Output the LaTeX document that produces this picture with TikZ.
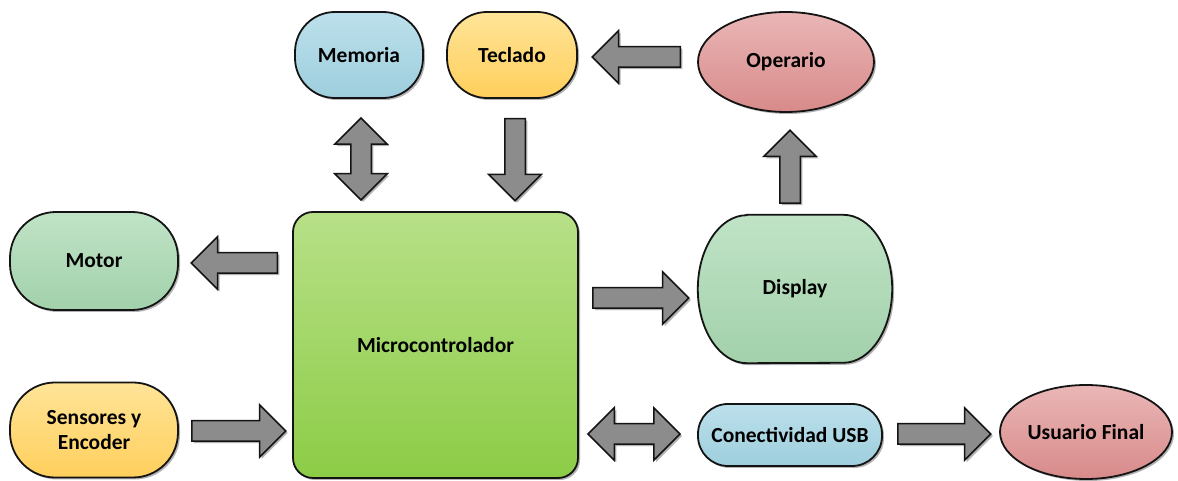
\documentclass[tikz,border=0pt]{standalone}
\usepackage{fontspec}
\setmainfont{Carlito}
\usetikzlibrary{shapes.geometric,shapes.arrows,shadows,calc}
\definecolor{bluetop}{RGB}{188,224,235}
\definecolor{bluebot}{RGB}{158,206,221}
\definecolor{yeltop}{RGB}{255,228,152}
\definecolor{yelbot}{RGB}{255,207,92}
\definecolor{redtop}{RGB}{234,182,182}
\definecolor{redbot}{RGB}{216,138,138}
\definecolor{greentop}{RGB}{192,227,198}
\definecolor{greenbot}{RGB}{162,209,171}
\definecolor{mictop}{RGB}{184,224,136}
\definecolor{micbot}{RGB}{140,204,70}
\definecolor{arrowgray}{RGB}{140,140,140}
\definecolor{edge}{RGB}{20,20,20}
\tikzset{
  x=1pt, y=1pt,
  every node/.style={font=\fontsize{21.5}{25}\selectfont\bfseries, align=center},
  shade/.style={drop shadow={shadow xshift=2pt, shadow yshift=-2pt, fill=black, opacity=0.3}},
  boxbase/.style={draw=edge, line width=1.8pt, shade},
  stadium/.style={boxbase, rectangle, inner sep=0pt},
  bluebox/.style={stadium, top color=bluetop, bottom color=bluebot},
  yelbox/.style={stadium, top color=yeltop, bottom color=yelbot},
  greenbox/.style={stadium, top color=greentop, bottom color=greenbot},
  redell/.style={boxbase, ellipse, inner sep=0pt, top color=redtop, bottom color=redbot},
  arrowbase/.style={draw=edge, line width=1.5pt, fill=arrowgray, inner xsep=0pt, inner ysep=9.5pt,
     text height=0pt, text depth=0pt, text width=0pt, shade},
  vert/.style={inner xsep=9.5pt, inner ysep=0pt},
  blockarrow/.style={arrowbase, single arrow, single arrow head extend=16pt, single arrow tip angle=90},
  dblockarrow/.style={arrowbase, double arrow, double arrow head extend=16pt, double arrow tip angle=90},
}
\begin{document}
\begin{tikzpicture}
\useasboundingbox (0,0) rectangle (1178,481);
% nodes
\node[bluebox, minimum width=128pt, minimum height=86pt, rounded corners=40pt] (memoria) at (359,426) {Memoria};
\node[yelbox, minimum width=130pt, minimum height=86pt, rounded corners=40pt] (teclado) at (512,426) {Teclado};
\node[redell, minimum width=176pt, minimum height=100pt] (operario) at (786,419) {Operario};
\node[greenbox, minimum width=168pt, minimum height=98pt, rounded corners=46pt] (motor) at (94,220) {Motor};
\node[yelbox, minimum width=168pt, minimum height=95pt, rounded corners=45pt] (sensores) at (94,51) {Sensores y\\Encoder};
\node[stadium, minimum width=285pt, minimum height=266pt, rounded corners=20pt, top color=mictop, bottom color=micbot] (micro) at (435.5,136) {Microcontrolador};
\node[rectangle, minimum width=194pt, minimum height=148pt, inner sep=0pt] (displaybox) at (795,192) {};
\path[boxbase, top color=greentop, bottom color=greenbot]
  ($(displaybox.north west)+(49,0)$) -- ($(displaybox.north east)+(-49,0)$)
  arc[start angle=90, end angle=-90, x radius=49, y radius=74]
  -- ($(displaybox.south west)+(49,0)$)
  arc[start angle=270, end angle=90, x radius=49, y radius=74] -- cycle;
\node (display) at (displaybox.center) {Display};
\node[bluebox, minimum width=184pt, minimum height=62pt, rounded corners=30pt] (usb) at (790,46) {Conectividad USB};
\node[redell, minimum width=172pt, minimum height=94pt] (usuario) at (1086,49) {Usuario Final};
% block arrows
\node[dblockarrow, vert, minimum height=82pt, shape border rotate=90] (amem) at (361,322) {};
\node[blockarrow, vert, minimum height=82pt, shape border rotate=270, anchor=tail] (atec) at (515,363) {};
\node[blockarrow, minimum height=88pt, shape border rotate=180, anchor=tail] (aop) at (681,424) {};
\node[blockarrow, vert, minimum height=73pt, shape border rotate=90, anchor=tail] (adisp) at (790,277) {};
\node[blockarrow, minimum height=86pt, shape border rotate=180, anchor=tail] (amotor) at (278,218) {};
\node[blockarrow, minimum height=94pt, anchor=tail] (asens) at (191,50) {};
\node[blockarrow, minimum height=96pt, anchor=tail] (adispin) at (592,183) {};
\node[dblockarrow, minimum height=92pt] (ausb) at (634,47) {};
\node[blockarrow, minimum height=93pt, anchor=tail] (auser) at (897,47) {};
\end{tikzpicture}
\end{document}
